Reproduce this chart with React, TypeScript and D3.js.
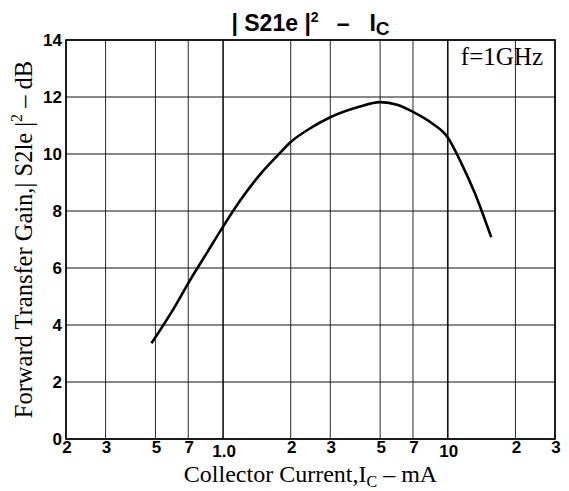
import React, { useEffect, useRef } from "react";
import * as d3 from "d3";

// Collector current (mA) vs. forward transfer gain |S21e|^2 (dB), f = 1 GHz
const currentMA = [0.48, 0.6, 0.71, 0.85, 1.0, 1.2, 1.45, 1.75, 2.0, 2.5, 3.0, 4.0, 5.0, 6.0, 7.0, 8.5, 10, 11.5, 13.2, 15.6];
const gainDB = [3.36, 4.55, 5.55, 6.55, 7.45, 8.4, 9.25, 9.95, 10.42, 10.95, 11.29, 11.65, 11.82, 11.72, 11.48, 11.08, 10.58, 9.67, 8.62, 7.08];

const xTicks = [0.2, 0.3, 0.5, 0.7, 1, 2, 3, 5, 7, 10, 20, 30];
const xTickLabels = ["2", "3", "5", "7", "1.0", "2", "3", "5", "7", "10", "2", "3"];
const yTicks = [0, 2, 4, 6, 8, 10, 12, 14];

const W = 569;
const H = 491;
const margin = { top: 40, right: 14, bottom: 52, left: 66 };

export default function App() {
  const ref = useRef<SVGSVGElement>(null);

  useEffect(() => {
    const svg = d3.select(ref.current);
    svg.selectAll("*").remove();

    const x = d3
      .scaleLog()
      .domain([0.2, 30])
      .range([margin.left, W - margin.right]);
    const y = d3
      .scaleLinear()
      .domain([0, 14])
      .range([H - margin.bottom, margin.top]);

    const sans = "'Liberation Sans', Arial, sans-serif";
    const narrow = "'Liberation Sans Narrow', 'Liberation Sans', Arial, sans-serif";
    const serif = "'Liberation Serif', 'Times New Roman', serif";

    // grid
    const grid = svg.append("g");
    grid
      .selectAll("line.v")
      .data(xTicks)
      .join("line")
      .attr("x1", (d) => x(d))
      .attr("x2", (d) => x(d))
      .attr("y1", y(0))
      .attr("y2", y(14))
      .attr("stroke", "#111")
      .attr("stroke-width", (d) => (d === 1 || d === 10 ? 1.6 : 0.9));
    grid
      .selectAll("line.h")
      .data(yTicks)
      .join("line")
      .attr("x1", x(0.2))
      .attr("x2", x(30))
      .attr("y1", (d) => y(d))
      .attr("y2", (d) => y(d))
      .attr("stroke", "#111")
      .attr("stroke-width", 1);

    svg
      .append("rect")
      .attr("x", x(0.2))
      .attr("y", y(14))
      .attr("width", x(30) - x(0.2))
      .attr("height", y(0) - y(14))
      .attr("fill", "none")
      .attr("stroke", "#000")
      .attr("stroke-width", 1.6);

    // curve
    const line = d3
      .line<number>()
      .x((_, i) => x(currentMA[i]))
      .y((d) => y(d))
      .curve(d3.curveMonotoneX);
    svg
      .append("path")
      .attr("d", line(gainDB))
      .attr("fill", "none")
      .attr("stroke", "#000")
      .attr("stroke-width", 2.6);

    // y tick labels
    svg
      .append("g")
      .selectAll("text")
      .data(yTicks)
      .join("text")
      .attr("x", margin.left - 4)
      .attr("y", (d) => y(d) + 6)
      .attr("text-anchor", "end")
      .attr("font-family", narrow)
      .attr("font-weight", 700)
      .attr("font-size", 17)
      .text((d) => String(d));

    // x tick labels
    svg
      .append("g")
      .selectAll("text")
      .data(xTicks)
      .join("text")
      .attr("x", (d) => x(d) + 1)
      .attr("y", (d) => y(0) + (d === 1 || d === 10 ? 18 : 14))
      .attr("text-anchor", "middle")
      .attr("font-family", narrow)
      .attr("font-weight", 700)
      .attr("font-size", 17)
      .text((_, i) => xTickLabels[i]);

    // title
    const title = svg
      .append("text")
      .attr("x", (margin.left + W - margin.right) / 2)
      .attr("y", 31)
      .attr("text-anchor", "middle")
      .attr("font-family", sans)
      .attr("font-size", 23)
      .attr("font-weight", 600);
    title.append("tspan").text("| S21e |");
    title.append("tspan").attr("font-size", 14).attr("dy", -9).text("2");
    title.append("tspan").attr("dy", 9).attr("dx", 18).text("–");
    title.append("tspan").attr("dx", 20).text("I");
    title.append("tspan").attr("font-size", 19).attr("dy", 4).text("C");

    // annotation
    svg
      .append("text")
      .attr("x", W - margin.right - 12)
      .attr("y", y(14) + 25)
      .attr("text-anchor", "end")
      .attr("font-family", serif)
      .attr("font-size", 25)
      .text("f=1GHz");

    // x axis title
    const xt = svg
      .append("text")
      .attr("x", (margin.left + W - margin.right) / 2)
      .attr("y", H - 9)
      .attr("text-anchor", "middle")
      .attr("font-family", serif)
      .attr("font-size", 24);
    xt.append("tspan").text("Collector Current,I");
    xt.append("tspan").attr("font-size", 16).attr("dy", 5).text("C");
    xt.append("tspan").attr("dy", -5).text(" – mA");

    // y axis title
    const yt = svg
      .append("text")
      .attr("transform", `translate(32,${(y(0) + y(14)) / 2}) rotate(-90)`)
      .attr("text-anchor", "middle")
      .attr("font-family", serif)
      .attr("font-size", 24.5);
    yt.append("tspan").text("Forward Transfer Gain,| S2le |");
    yt.append("tspan").attr("font-size", 16).attr("dy", -10).text("2");
    yt.append("tspan").attr("dy", 10).text(" – dB");
  }, []);

  return (
    <svg
      ref={ref}
      width={W}
      height={H}
      style={{ position: "absolute", left: 0, top: 0, background: "#fff" }}
    />
  );
}
